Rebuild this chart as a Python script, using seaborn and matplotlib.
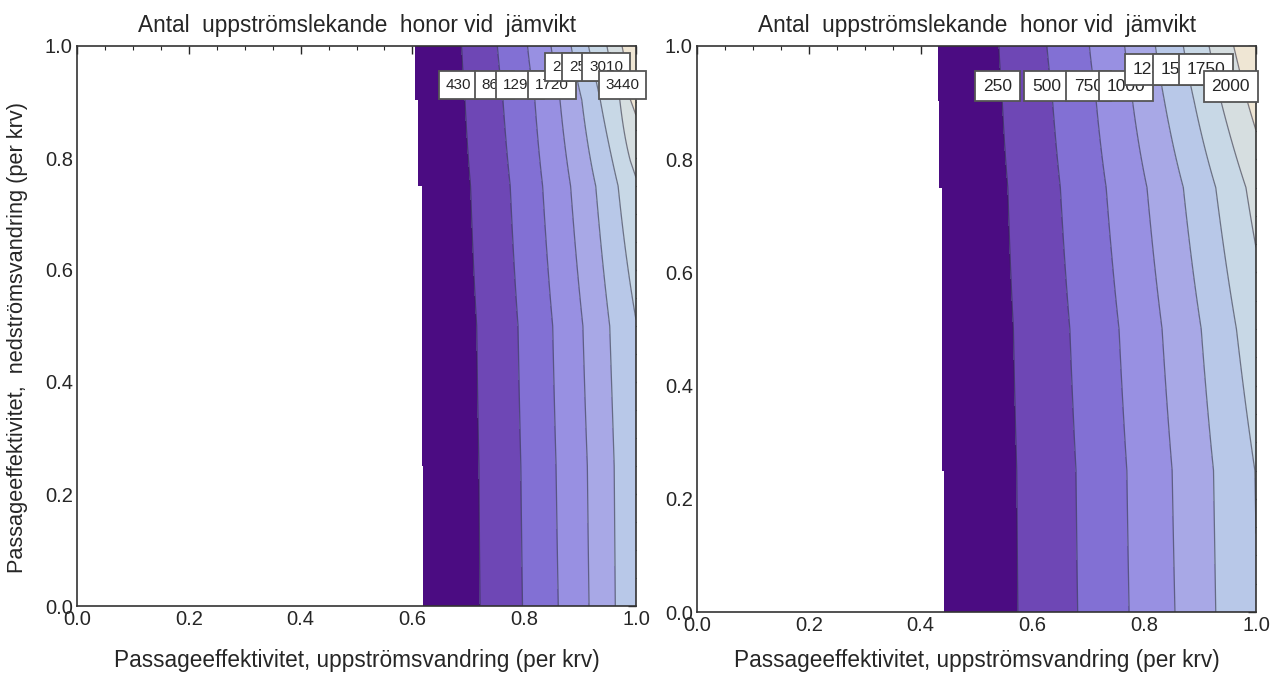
import numpy as np
import seaborn as sns
import matplotlib.pyplot as plt
from matplotlib.ticker import MultipleLocator

y_rows = [0.0, 0.25, 0.5, 0.75, 0.904, 1.0]

# left panel: x where the equilibrium starts (0 females) and where each level is crossed
left_levels = [430, 860, 1290, 1720, 2150, 2580, 3010, 3440, 3870]
left_start = [0.620, 0.618, 0.617, 0.611, 0.605, 0.601]
left_cross = [
    [0.721, 0.797, 0.861, 0.916, 0.963, 1.010, 1.050, 1.090, 1.125],
    [0.719, 0.794, 0.857, 0.913, 0.961, 1.008, 1.046, 1.085, 1.120],
    [0.715, 0.789, 0.851, 0.905, 0.953, 1.002, 1.038, 1.072, 1.105],
    [0.704, 0.775, 0.833, 0.883, 0.928, 0.968, 1.005, 1.040, 1.070],
    [0.694, 0.762, 0.819, 0.864, 0.903, 0.936, 0.971, 0.990, 1.030],
    [0.688, 0.752, 0.806, 0.848, 0.884, 0.915, 0.948, 0.975, 1.000],
]

# right panel
right_levels = [250, 500, 750, 1000, 1250, 1500, 1750, 2000, 2250]
right_start = [0.442, 0.440, 0.438, 0.434, 0.431, 0.429]
right_cross = [
    [0.574, 0.681, 0.773, 0.855, 0.928, 1.003, 1.065, 1.125, 1.180],
    [0.572, 0.678, 0.769, 0.850, 0.924, 0.998, 1.060, 1.120, 1.175],
    [0.566, 0.667, 0.755, 0.832, 0.902, 0.965, 1.030, 1.085, 1.140],
    [0.556, 0.650, 0.732, 0.805, 0.870, 0.928, 0.982, 1.035, 1.090],
    [0.546, 0.636, 0.714, 0.779, 0.836, 0.889, 0.937, 0.984, 1.030],
    [0.540, 0.626, 0.702, 0.765, 0.820, 0.870, 0.916, 0.960, 1.005],
]

band_colors = ['#4b0c82', '#6e47b5', '#8270d4', '#9890e2', '#a8a8e6',
               '#b8c8e8', '#c8d8e6', '#d6dee0', '#efe6d4']

title = 'Antal  uppströmslekande  honor vid  jämvikt'
xlab = 'Passageeffektivitet, uppströmsvandring (per krv)'
ylab = 'Passageeffektivitet,  nedströmsvandring (per krv)'

# where Mathematica put the contour labels (layout only)
left_lab_x = [0.682, 0.747, 0.792, 0.850, 0.880, 0.911, 0.947, 0.976]
left_lab_y = [0.930, 0.930, 0.930, 0.930, 0.962, 0.962, 0.962, 0.930]
right_lab_x = [0.538, 0.625, 0.700, 0.768, 0.814, 0.864, 0.911, 0.955]
right_lab_y = [0.929, 0.929, 0.929, 0.929, 0.958, 0.958, 0.958, 0.928]


def build_field(start, cross, levels):
    x = np.linspace(0, 1, 1201)
    z = np.full((len(y_rows), x.size), np.nan)
    for j in range(len(y_rows)):
        row = np.interp(x, [start[j]] + cross[j], [0] + levels)
        row[x < start[j]] = np.nan
        z[j] = row
    return x, np.ma.masked_invalid(z)


def draw_panel(ax, start, cross, levels, lab_x, lab_y, fs, xpad):
    x, z = build_field(start, cross, levels)
    bounds = [0] + levels[:-1] + [levels[-1] * 2]
    ax.contourf(x, y_rows, z, levels=bounds, colors=band_colors, corner_mask=False)
    ax.contour(x, y_rows, z, levels=levels[:-1], colors='#2e2e44',
               linewidths=0.9, alpha=0.6, corner_mask=False)
    for i, lv in enumerate(levels[:-1]):
        ax.text(lab_x[i], lab_y[i], str(lv), ha='center', va='center',
                fontsize=fs, clip_on=False, zorder=5 + i,
                bbox=dict(boxstyle='square,pad=0.45', fc='white',
                          ec='#555555', lw=1.3))
    ax.set_xlim(0, 1)
    ax.set_ylim(0, 1)
    ax.xaxis.set_major_locator(MultipleLocator(0.2))
    ax.yaxis.set_major_locator(MultipleLocator(0.2))
    ax.xaxis.set_minor_locator(MultipleLocator(0.05))
    ax.yaxis.set_minor_locator(MultipleLocator(0.05))
    ax.tick_params(which='both', direction='in', top=True, right=True,
                   labelsize=14.5, pad=3)
    ax.tick_params(which='major', length=6, width=1)
    ax.tick_params(which='minor', length=3, width=0.8)
    ax.xaxis.set_major_formatter(lambda v, p: f'{v:.1f}')
    ax.yaxis.set_major_formatter(lambda v, p: f'{v:.1f}')
    for s in ax.spines.values():
        s.set_color('#333333')
        s.set_linewidth(1.2)
    ax.set_title(title, fontsize=16.3, pad=10)
    ax.set_xlabel(xlab, fontsize=16.3, labelpad=xpad)


def main():
    sns.set_style('white')
    plt.rcParams['font.family'] = ['Liberation Sans', 'DejaVu Sans']

    fig = plt.figure(figsize=(12.73, 6.75), dpi=100)
    ax1 = fig.add_axes([77 / 1273, 69 / 675, 559 / 1273, 560 / 675])
    ax2 = fig.add_axes([697 / 1273, 63 / 675, 559 / 1273, 566 / 675])

    draw_panel(ax1, left_start, left_cross, left_levels, left_lab_x, left_lab_y, 11, 14)
    draw_panel(ax2, right_start, right_cross, right_levels, right_lab_x, right_lab_y, 12.5, 10)
    ax1.set_ylabel(ylab, fontsize=15.7)
    ax1.yaxis.set_label_coords(-0.088, 0.48)

    fig.savefig('out.png', dpi=100)


if __name__ == '__main__':
    main()
